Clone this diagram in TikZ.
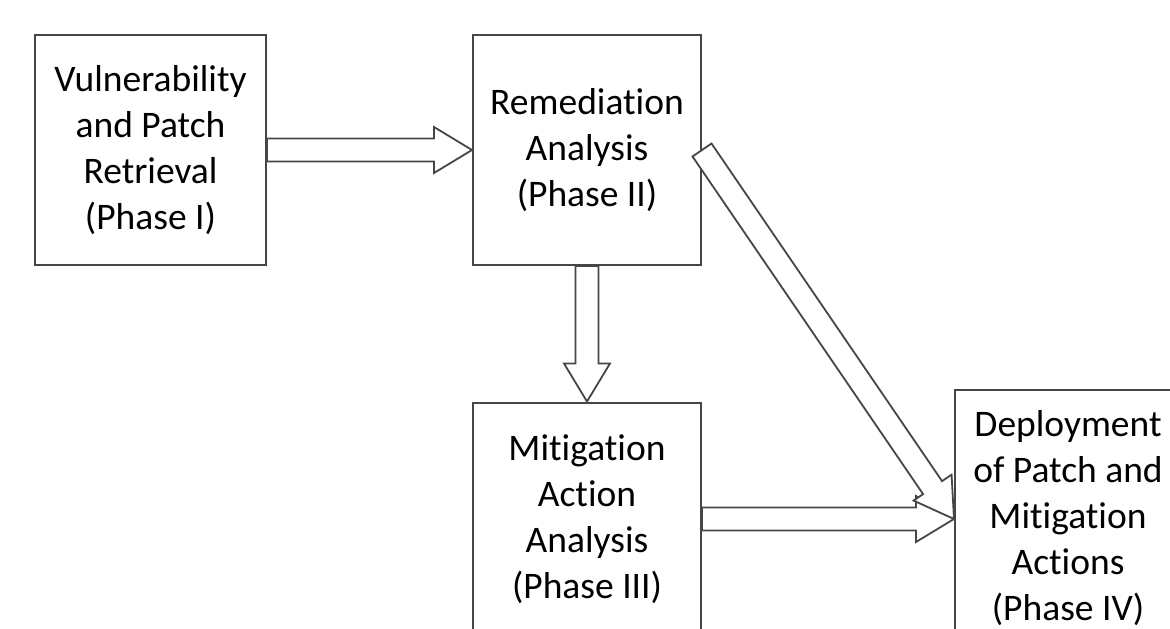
\documentclass[tikz,border=0pt]{standalone}
\usepackage{fontspec}
\setmainfont{Carlito}[Ligatures={NoCommon}]
\usetikzlibrary{calc}
\definecolor{edge}{RGB}{70,70,70}
\tikzset{
  phasebox/.style={draw=edge, line width=2pt, rectangle, inner sep=0pt, align=center,
    font={\fontsize{37.5}{46}\selectfont}, text=black},
  blockarr/.style={draw=edge, line width=1.8pt, fill=white, line join=miter}
}
\newcommand{\blockarrow}[2]{%
  \path (#1) coordinate (ba-a) (#2) coordinate (ba-b);
  \path ($(ba-b)!38pt!(ba-a)$) coordinate (ba-h);
  \draw[blockarr]
    ($(ba-a)!11.5pt!90:(ba-b)$) --
    ($(ba-h)!11.5pt!90:(ba-b)$) --
    ($(ba-h)!23pt!90:(ba-b)$) --
    (ba-b) --
    ($(ba-h)!23pt!-90:(ba-b)$) --
    ($(ba-h)!11.5pt!-90:(ba-b)$) --
    ($(ba-a)!11.5pt!-90:(ba-b)$) -- cycle;
}
\begin{document}
\begin{tikzpicture}[x=1pt,y=-1pt]
\useasboundingbox (0,0) rectangle (1170,629);
\clip (0,0) rectangle (1170,629);
\node[phasebox, minimum width=231pt, minimum height=230pt] (p1) at (150.5,150)
  {Vulnerability\\and Patch\\Retrieval\\(Phase I)};
\node[phasebox, minimum width=228pt, minimum height=230pt] (p2) at (587,150)
  {Remediation\\Analysis\\(Phase II)};
\node[phasebox, minimum width=228pt, minimum height=233pt] (p3) at (587,519)
  {Mitigation\\Action\\Analysis\\(Phase III)};
\node[phasebox, minimum width=226pt, minimum height=256pt] (p4) at (1068,518)
  {Deployment\\of Patch and\\Mitigation\\Actions\\(Phase IV)};
\coordinate (p4in) at (p4.west |- p3.east);
\blockarrow{p1.east}{p2.west}
\blockarrow{p2.south}{p3.north}
\blockarrow{p3.east}{p4in}
\blockarrow{p2.east}{p4in}
\end{tikzpicture}
\end{document}
